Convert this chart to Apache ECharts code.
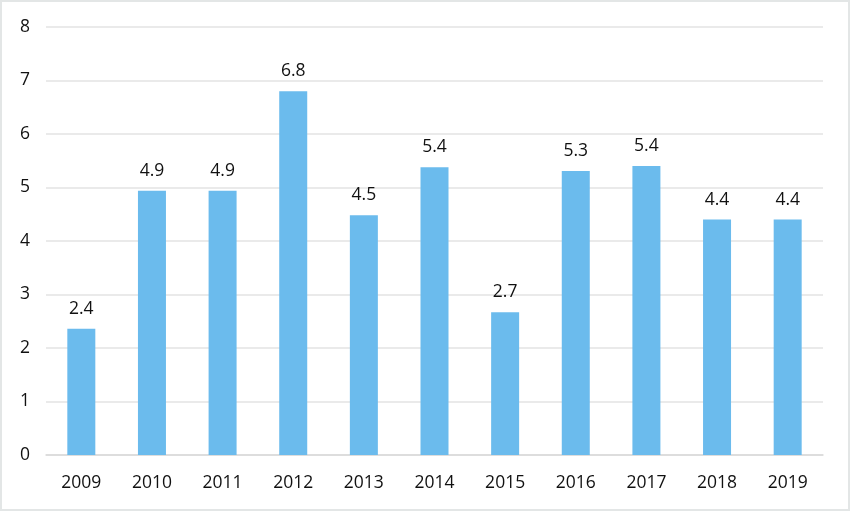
<!DOCTYPE html>
<html><head><meta charset="utf-8">
<script src="https://cdn.jsdelivr.net/npm/echarts@6/dist/echarts.min.js"></script>
<style>html,body{margin:0;padding:0;background:#fff;}#c{width:850px;height:511px;box-sizing:border-box;border:2px solid #e3e6e6;}</style>
</head><body><div id="c"></div>
<script>
const categories = ['2009','2010','2011','2012','2013','2014','2015','2016','2017','2018','2019'];
const values = [2.36, 4.94, 4.94, 6.8, 4.48, 5.38, 2.67, 5.31, 5.4, 4.4, 4.4];
const yTicks = {min: 0, max: 8, interval: 1};
const chart = echarts.init(document.getElementById('c'));
chart.setOption({
  animation: false,
  grid: {left: 44, right: 25, top: 25, bottom: 54},
  xAxis: {
    type: 'category', data: categories,
    axisLine: {lineStyle: {color: '#d9d9d9', width: 1.5}},
    axisTick: {show: false},
    axisLabel: {color: '#111', fontSize: 17.5, fontFamily: 'Open Sans', margin: 19}
  },
  yAxis: {
    type: 'value', min: yTicks.min, max: yTicks.max, interval: yTicks.interval,
    axisLine: {show: false}, axisTick: {show: false},
    splitLine: {lineStyle: {color: '#e3e3e3', width: 1.5}},
    axisLabel: {color: '#111', fontSize: 17.5, fontFamily: 'Open Sans', margin: 16}
  },
  series: [{
    type: 'bar', data: values, barWidth: 28,
    itemStyle: {color: '#6bbbed'},
    label: {show: true, position: 'top', distance: 11, color: '#111', fontSize: 17.5, fontFamily: 'Open Sans',
      formatter: p => p.value.toFixed(1)}
  }]
});
</script></body></html>
